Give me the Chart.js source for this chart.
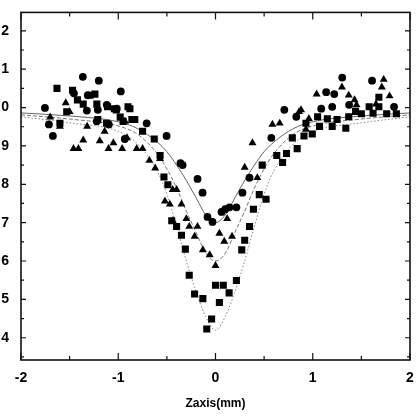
<!DOCTYPE html>
<html>
<head>
<meta charset="utf-8">
<script src="https://cdn.jsdelivr.net/npm/chart.js@4.4.1/dist/chart.umd.min.js"></script>
<style>
  html, body { margin: 0; padding: 0; background: #fff; }
</style>
</head>
<body>
<canvas id="chart" width="417" height="419"></canvas>
<script>
// measured points, [z (mm), normalised signal]
const circles = [
  [-1.754, 0.999], [-1.713, 0.956], [-1.672, 0.926], [-1.364, 1.080], [-1.200, 1.070],
  [-0.974, 1.042], [-1.456, 1.037], [-1.313, 1.032], [-1.323, 0.992], [-1.210, 0.994],
  [-1.118, 1.007], [-1.015, 0.997], [-1.221, 0.964], [-1.097, 0.956], [-0.933, 0.918],
  [-0.708, 0.959], [-0.503, 0.926], [-0.338, 0.850], [-0.185, 0.814], [-0.133, 0.778],
  [-0.082, 0.715], [-0.031, 0.702], [0.062, 0.728], [0.144, 0.740], [0.215, 0.740],
  [0.277, 0.778], [0.349, 0.817], [0.574, 0.921], [0.708, 0.994], [1.303, 1.078],
  [1.610, 1.070], [1.138, 1.040], [1.221, 1.035], [1.087, 0.997], [1.200, 1.002],
  [0.831, 0.976], [1.374, 1.007], [1.836, 1.002], [-0.36, 0.855], [0.10, 0.735]
];
const squares = [
  [-1.63, 1.050], [-1.47, 1.045], [-1.29, 1.032], [-1.24, 1.035], [-1.36, 1.009],
  [-1.22, 1.009], [-1.11, 1.002], [-1.02, 0.994], [-0.90, 1.002], [-1.60, 0.959],
  [-1.53, 0.989], [-1.21, 0.969], [-1.12, 0.959], [-0.86, 0.969], [-1.04, 0.997],
  [-0.88, 0.997], [-0.95, 0.964], [-0.83, 0.969], [-0.75, 0.938], [-0.63, 0.918],
  [-0.57, 0.875], [-0.53, 0.819], [-0.49, 0.799], [-0.45, 0.705], [-0.40, 0.690],
  [-0.35, 0.667], [-0.31, 0.631], [-0.27, 0.563], [-0.215, 0.514], [-0.13, 0.502],
  [-0.04, 0.449], [-0.09, 0.423], [0.00, 0.537], [0.08, 0.537], [0.04, 0.492],
  [0.14, 0.517], [0.215, 0.549], [0.27, 0.629], [0.30, 0.654], [0.35, 0.690],
  [0.39, 0.735], [0.45, 0.773], [0.52, 0.761], [0.48, 0.850], [0.63, 0.875],
  [0.69, 0.857], [0.73, 0.880], [0.84, 0.893], [0.79, 0.921], [0.91, 0.926],
  [0.995, 0.931], [1.07, 0.951], [0.93, 0.959], [1.20, 0.951], [1.34, 0.946],
  [1.25, 0.969], [1.37, 0.976], [1.50, 0.984], [1.58, 1.002], [1.68, 1.027],
  [1.68, 1.002], [1.76, 0.984], [1.86, 0.984], [1.05, 0.976], [1.15, 0.971],
  [-1.42, 1.020], [-0.98, 0.975], [1.44, 0.990], [1.62, 0.985]
];
const triangles = [
  [-1.54, 1.012], [-1.50, 0.989], [-1.60, 0.951], [-1.70, 0.975], [-1.46, 0.893],
  [-1.41, 0.893], [-1.36, 0.915], [-1.32, 0.951], [-1.19, 0.913], [-1.14, 0.938],
  [-1.10, 0.893], [-1.05, 0.908], [-0.96, 0.893], [-0.93, 0.964], [-0.91, 0.921],
  [-0.81, 0.893], [-0.75, 0.893], [-0.68, 0.862], [-0.62, 0.842], [-0.57, 0.867],
  [-0.44, 0.786], [-0.40, 0.786], [-0.52, 0.756], [-0.47, 0.748], [-0.35, 0.748],
  [-0.44, 0.705], [-0.30, 0.710], [-0.27, 0.690], [-0.185, 0.690], [-0.215, 0.664],
  [-0.13, 0.629], [-0.06, 0.616], [0.00, 0.588], [0.04, 0.672], [0.09, 0.651],
  [0.17, 0.664], [0.12, 0.710], [0.30, 0.844], [0.38, 0.908], [0.43, 0.817],
  [0.585, 0.956], [0.66, 0.959], [0.86, 0.989], [0.96, 0.971], [0.93, 0.943],
  [0.88, 0.994], [1.04, 1.035], [1.30, 1.053], [1.37, 1.032], [1.43, 1.020],
  [1.45, 1.007], [1.73, 1.073], [1.71, 1.053], [1.79, 1.030], [1.65, 1.009]
];

// fitted curves
const fitX        = [-2, -1.5, -1, -0.8, -0.6, -0.5, -0.4, -0.3, -0.2, -0.1, 0, 0.1, 0.2, 0.3, 0.4, 0.5, 0.6, 0.8, 1, 1.5, 2];
const fitCircle   = [0.986, 0.978, 0.963, 0.945, 0.910, 0.885, 0.850, 0.810, 0.765, 0.720, 0.700, 0.720, 0.765, 0.810, 0.850, 0.885, 0.910, 0.945, 0.963, 0.978, 0.986];
const fitTriangle = [0.981, 0.970, 0.952, 0.930, 0.880, 0.840, 0.790, 0.730, 0.675, 0.620, 0.600, 0.620, 0.675, 0.730, 0.790, 0.840, 0.880, 0.930, 0.952, 0.970, 0.981];
const fitSquare   = [0.976, 0.960, 0.938, 0.905, 0.835, 0.775, 0.690, 0.600, 0.520, 0.455, 0.420, 0.455, 0.520, 0.600, 0.690, 0.775, 0.835, 0.905, 0.938, 0.960, 0.976];

const xTicks = [-2, -1, 0, 1, 2];
const xMinor = [-1.5, -0.5, 0.5, 1.5];
const yTicks = [0.4, 0.5, 0.6, 0.7, 0.8, 0.9, 1.0, 1.1, 1.2];
const yMinor = [0.35, 0.45, 0.55, 0.65, 0.75, 0.85, 0.95, 1.05, 1.15];

const pts = arr => arr.map(p => ({x: p[0], y: p[1]}));
const curve = ys => fitX.map((x, i) => ({x: x, y: ys[i]}));

function fitLine(ys, color, dash) {
  return {
    type: 'line', data: curve(ys), borderColor: color, borderWidth: 0.9,
    borderDash: dash, pointRadius: 0, fill: false,
    cubicInterpolationMode: 'monotone', order: 2
  };
}

function markers(arr, style, r) {
  return {
    type: 'scatter', data: pts(arr), pointStyle: style, pointRadius: r,
    backgroundColor: '#000', borderColor: '#000', borderWidth: 0, order: 1
  };
}

// box round the plot plus the short inward ticks
const frame = {
  id: 'frame',
  afterDatasetsDraw(chart) {
    const {ctx, chartArea: a, scales: {x, y}} = chart;
    ctx.save();
    ctx.strokeStyle = '#111';
    ctx.lineWidth = 1.6;
    ctx.strokeRect(a.left, a.top, a.right - a.left, a.bottom - a.top);
    ctx.lineWidth = 1.2;
    ctx.beginPath();
    const xt = (vals, len) => vals.forEach(v => {
      const px = x.getPixelForValue(v);
      ctx.moveTo(px, a.bottom); ctx.lineTo(px, a.bottom - len);
      ctx.moveTo(px, a.top); ctx.lineTo(px, a.top + len);
    });
    const yt = (vals, len) => vals.forEach(v => {
      const py = y.getPixelForValue(v);
      ctx.moveTo(a.left, py); ctx.lineTo(a.left + len, py);
      ctx.moveTo(a.right, py); ctx.lineTo(a.right - len, py);
    });
    xt(xTicks, 7); xt(xMinor, 4);
    yt(yTicks, 5); yt(yMinor, 3);
    ctx.stroke();
    ctx.restore();
  }
};

const tickFont = {family: "'Liberation Sans', Arial, sans-serif", weight: 'bold', size: 14};

new Chart(document.getElementById('chart'), {
  data: {
    datasets: [
      fitLine(fitCircle, '#555', []),
      fitLine(fitTriangle, '#666', [4, 2]),
      fitLine(fitSquare, '#777', [1.5, 2]),
      markers(circles, 'circle', 3.9),
      markers(squares, 'rect', 5),
      markers(triangles, 'triangle', 4.6)
    ]
  },
  options: {
    responsive: false,
    animation: false,
    layout: {padding: {left: 0, right: 7, top: 3, bottom: 0}},
    plugins: {legend: {display: false}, tooltip: {enabled: false}},
    scales: {
      x: {
        type: 'linear', min: -2, max: 2,
        grid: {display: false}, border: {display: false},
        afterBuildTicks: s => { s.ticks = xTicks.map(v => ({value: v})); },
        afterFit: s => { s.height = 59; },
        ticks: {font: tickFont, color: '#000', padding: 2, maxRotation: 0,
          callback: v => String(v)},
        title: {
          display: true, text: 'Zaxis(mm)', color: '#000',
          font: {family: "'Liberation Sans Narrow', 'Liberation Sans', Arial, sans-serif", weight: 'bold', size: 12},
          padding: {top: 0, bottom: 8}
        }
      },
      y: {
        type: 'linear', min: 0.342, max: 1.248,
        grid: {display: false}, border: {display: false},
        afterBuildTicks: s => { s.ticks = yTicks.map(v => ({value: v})); },
        afterFit: s => { s.width = 21; },
        ticks: {font: tickFont, color: '#000', padding: 4,
          callback: v => String(Math.round(v * 10) % 10)}
      }
    }
  },
  plugins: [frame]
});
</script>
</body>
</html>
